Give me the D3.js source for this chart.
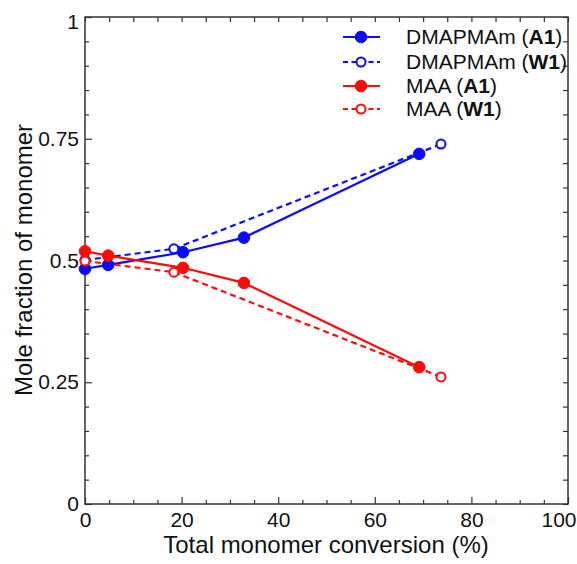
<!DOCTYPE html>
<html><head><meta charset="utf-8">
<script src="https://cdn.jsdelivr.net/npm/d3@7"></script>
<style>body{margin:0;background:#fff}svg{display:block}text{font-family:"Liberation Sans",Arial,sans-serif}</style>
</head><body>
<svg id="c" width="577" height="564"></svg>
<script>
// Data
const convA1 = [0, 4.8, 20.3, 32.9, 69.2];
const dmapmamA1 = [0.483, 0.491, 0.517, 0.547, 0.719];
const maaA1 = [0.519, 0.510, 0.485, 0.454, 0.281];
const convW1 = [0, 18.4, 73.7];
const dmapmamW1 = [0.501, 0.524, 0.739];
const maaW1 = [0.499, 0.476, 0.261];
const xTicks = [0, 20, 40, 60, 80, 100];
const yTicks = [0, 0.25, 0.5, 0.75, 1];
const yTickLabels = ["0", "0.25", "0.5", "0.75", "1"];
const seriesNames = ["DMAPMAm", "DMAPMAm", "MAA", "MAA"];
const seriesTags = ["A1", "W1", "A1", "W1"];

const svg = d3.select("#c");
const L = 85, R = 568, T = 17, B = 504;
const x = d3.scaleLinear().domain([0, 100]).range([L, R]);
const y = d3.scaleLinear().domain([0, 1]).range([B, T]);
const axisColor = "#333";

// frame
svg.append("rect").attr("x", L).attr("y", T).attr("width", R - L).attr("height", B - T)
  .attr("fill", "none").attr("stroke", axisColor).attr("stroke-width", 1.5);

const minorX = d3.range(0, 101, 5), minorY = d3.range(0, 1.0001, 0.05);
function styleAxis(g){ g.select(".domain").remove(); g.selectAll("line").attr("stroke", axisColor).attr("stroke-width",1.2); }
// bottom axis (ticks inward)
const gx = svg.append("g").attr("transform", `translate(0,${B})`)
  .call(d3.axisBottom(x).tickValues(xTicks).tickSize(-7).tickPadding(8).tickFormat(d3.format("d")));
styleAxis(gx);
gx.selectAll("text").attr("font-size", 21).attr("fill", "#111").attr("dy","0.71em");
gx.selectAll(".tick").filter(d => d === 100).select("text").attr("text-anchor", "end").attr("x", 8);
svg.append("g").attr("transform", `translate(0,${B})`)
  .call(d3.axisBottom(x).tickValues(minorX.filter(v=>v%20)).tickSize(-4).tickFormat(""))
  .call(styleAxis);
// top axis
svg.append("g").attr("transform", `translate(0,${T})`)
  .call(d3.axisTop(x).tickValues(minorX).tickSize(-5).tickFormat("")).call(styleAxis);
// left axis
const gy = svg.append("g").attr("transform", `translate(${L},0)`)
  .call(d3.axisLeft(y).tickValues(yTicks).tickSize(-7).tickPadding(6).tickFormat((d,i)=>yTickLabels[i]));
styleAxis(gy);
gy.selectAll("text").attr("font-size", 21).attr("fill", "#111");
gy.selectAll(".tick").filter(d => d === 1).select("text").attr("dy", "0.57em");
svg.append("g").attr("transform", `translate(${L},0)`)
  .call(d3.axisLeft(y).tickValues(minorY.filter((v,i)=>i%5)).tickSize(-4).tickFormat("")).call(styleAxis);
// right axis
svg.append("g").attr("transform", `translate(${R},0)`)
  .call(d3.axisRight(y).tickValues(minorY).tickSize(-5).tickFormat("")).call(styleAxis);

// axis titles
svg.append("text").attr("x", 326).attr("y", 553).attr("text-anchor", "middle")
  .attr("font-size", 24).attr("fill", "#111").text("Total monomer conversion (%)");
svg.append("text").attr("transform", `translate(32,260) rotate(-90)`).attr("text-anchor", "middle")
  .attr("font-size", 24).attr("fill", "#111").text("Mole fraction of monomer");

const BLUE = "#0a0aff", RED = "#ff0a0a";
const series = [
  {xs: convA1, ys: dmapmamA1, color: BLUE, dashed: false},
  {xs: convW1, ys: dmapmamW1, color: BLUE, dashed: true},
  {xs: convA1, ys: maaA1, color: RED, dashed: false},
  {xs: convW1, ys: maaW1, color: RED, dashed: true}
];
const line = d3.line().x(d => x(d[0])).y(d => y(d[1]));
const plot = svg.append("g");
series.forEach(s => {
  const pts = s.xs.map((v, i) => [v, s.ys[i]]);
  plot.append("path").attr("d", line(pts)).attr("fill", "none").attr("stroke", s.color)
    .attr("stroke-width", 2.2).attr("stroke-dasharray", s.dashed ? "6,4" : null);
});
series.forEach(s => {
  const pts = s.xs.map((v, i) => [v, s.ys[i]]);
  plot.selectAll(null).data(pts).enter().append("circle")
    .attr("cx", d => x(d[0])).attr("cy", d => y(d[1]))
    .attr("r", s.dashed ? 4.5 : 5.8)
    .attr("fill", s.dashed ? "#fff" : s.color)
    .attr("stroke", s.color).attr("stroke-width", s.dashed ? 2 : 1);
});

// legend
const legY = [37, 62, 86, 109];
const leg = svg.append("g");
series.forEach((s, i) => {
  const yy = legY[i];
  leg.append("line").attr("x1", 343).attr("x2", 380).attr("y1", yy).attr("y2", yy)
    .attr("stroke", s.color).attr("stroke-width", 2.2).attr("stroke-dasharray", s.dashed ? "5,3.5" : null);
  leg.append("circle").attr("cx", 361).attr("cy", yy).attr("r", s.dashed ? 4.5 : 5.8)
    .attr("fill", s.dashed ? "#fff" : s.color).attr("stroke", s.color).attr("stroke-width", s.dashed ? 2 : 1);
  const t = leg.append("text").attr("x", 406).attr("y", yy + 7).attr("font-size", 21).attr("fill", "#111");
  t.append("tspan").text(seriesNames[i] + " (");
  t.append("tspan").attr("font-weight", "bold").text(seriesTags[i]);
  t.append("tspan").text(")");
});
</script>
</body></html>
